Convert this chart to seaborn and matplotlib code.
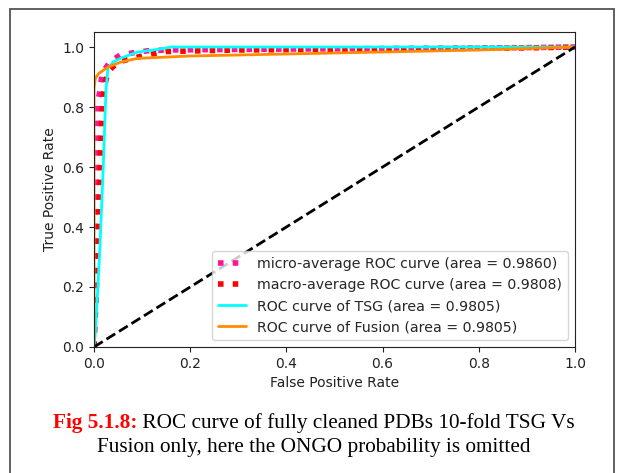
import matplotlib
matplotlib.use("Agg")
import matplotlib.pyplot as plt
from matplotlib.patches import Rectangle
import seaborn as sns
import pandas as pd

# ROC curve points (false positive rate, true positive rate)
micro_fpr = [0.0, 0.002, 0.004, 0.006, 0.008, 0.012, 0.017, 0.033, 0.054, 0.079, 0.11, 0.15, 0.3, 0.6, 0.9, 1.0]
micro_tpr = [0.0, 0.2, 0.55, 0.757, 0.82, 0.85, 0.913, 0.95, 0.973, 0.98, 0.987, 0.99, 0.992, 0.995, 0.998, 1.0]

macro_fpr = [0.0, 0.004, 0.008, 0.012, 0.016, 0.02, 0.03, 0.05, 0.1, 0.15, 0.3, 0.6, 0.9, 1.0]
macro_tpr = [0.0, 0.15, 0.35, 0.55, 0.75, 0.86, 0.92, 0.95, 0.97, 0.985, 0.99, 0.993, 0.997, 1.0]

tsg_fpr = [0.0, 0.003, 0.012, 0.019, 0.025, 0.029, 0.04, 0.056, 0.09, 0.137, 0.16, 0.5, 1.0]
tsg_tpr = [0.0, 0.05, 0.32, 0.59, 0.86, 0.93, 0.95, 0.963, 0.983, 0.993, 1.0, 1.0, 1.0]

fusion_fpr = [0.0, 0.0, 0.003, 0.01, 0.029, 0.056, 0.09, 0.2, 0.5, 0.8, 1.0]
fusion_tpr = [0.0, 0.863, 0.897, 0.912, 0.933, 0.95, 0.962, 0.97, 0.98, 0.99, 1.0]

labels = [
    "micro-average ROC curve (area = 0.9860)",
    "macro-average ROC curve (area = 0.9808)",
    "ROC curve of TSG (area = 0.9805)",
    "ROC curve of Fusion (area = 0.9805)",
]
chance = [0.0, 1.0]

sns.set_style("ticks")
plt.rcParams["font.family"] = ["DejaVu Sans"]

W, H = 618, 473
fig = plt.figure(figsize=(W / 100, H / 100), dpi=100)
fig.patch.set_facecolor("white")
ax = fig.add_axes([94 / W, (H - 347) / H, 481 / W, 315 / H])

def draw(x, y, **kw):
    df = pd.DataFrame({"fpr": x, "tpr": y})
    sns.lineplot(data=df, x="fpr", y="tpr", ax=ax, sort=False, estimator=None, **kw)

draw(micro_fpr, micro_tpr, color="deeppink", linestyle=":", linewidth=4, label=labels[0])
draw(macro_fpr, macro_tpr, color="red", linestyle=":", linewidth=4, label=labels[1])
draw(tsg_fpr, tsg_tpr, color="aqua", linewidth=2, label=labels[2])
draw(fusion_fpr, fusion_tpr, color="darkorange", linewidth=2, label=labels[3])
draw(chance, chance, color="black", linestyle="--", linewidth=2)

ax.set_xlim(0.0, 1.0)
ax.set_ylim(0.0, 1.05)
ax.set_xticks([0.0, 0.2, 0.4, 0.6, 0.8, 1.0])
ax.set_yticks([0.0, 0.2, 0.4, 0.6, 0.8, 1.0])
ax.tick_params(labelsize=10, colors="#222222", length=3.5, width=0.8)
for s in ax.spines.values():
    s.set_visible(True)
    s.set_color("#222222")
    s.set_linewidth(0.8)
ax.set_xlabel("False Positive Rate", fontsize=10, color="#222222")
ax.set_ylabel("True Positive Rate", fontsize=10, color="#222222")
leg = ax.legend(loc="lower right", fontsize=10.2, frameon=True)
leg.get_frame().set_edgecolor("#cccccc")

# page border around the figure block
fig.add_artist(Rectangle((10 / W, -0.1), 604 / W, (H - 9) / H + 0.1,
                         transform=fig.transFigure, fill=False,
                         edgecolor="#555555", linewidth=1.3))

# caption: bold red figure number followed by black text, centred
serif = "Liberation Serif"
fs = 15.3
cx = 314 / W
y1 = (H - 428) / H
y2 = (H - 452) / H
head = fig.text(0, y1, "Fig 5.1.8:", fontsize=fs, fontweight="bold", color="red",
                family=serif, va="baseline", ha="left")
rest = fig.text(0, y1, " ROC curve of fully cleaned PDBs 10-fold TSG Vs", fontsize=fs,
                color="black", family=serif, va="baseline", ha="left")
fig.canvas.draw()
r = fig.canvas.get_renderer()
w1 = head.get_window_extent(r).width / W
w2 = rest.get_window_extent(r).width / W
x0 = cx - (w1 + w2) / 2
head.set_x(x0)
rest.set_x(x0 + w1)
fig.text(cx, y2, "Fusion only, here the ONGO probability is omitted", fontsize=fs,
         color="black", family=serif, va="baseline", ha="center")

fig.savefig("out.png", dpi=100, facecolor="white")
